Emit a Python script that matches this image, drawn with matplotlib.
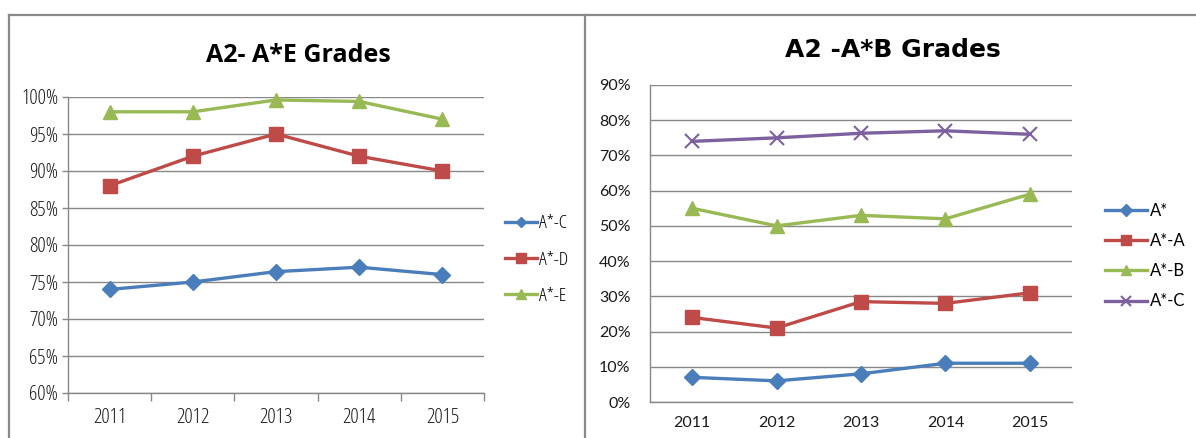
import matplotlib
matplotlib.use("Agg")
import matplotlib.pyplot as plt
from matplotlib.lines import Line2D
from matplotlib.ticker import FixedLocator, NullFormatter
from matplotlib import font_manager

years = ["2011", "2012", "2013", "2014", "2015"]

# Left chart: A2- A*E Grades (percent)
left_labels = ["A*-C", "A*-D", "A*-E"]
left_ac = [74, 75, 76.4, 77, 76]
left_ad = [88, 92, 95, 92, 90]
left_ae = [98, 98, 99.6, 99.4, 97]
left_yticks = [60, 65, 70, 75, 80, 85, 90, 95, 100]

# Right chart: A2 -A*B Grades (percent)
right_labels = ["A*", "A*-A", "A*-B", "A*-C"]
right_astar = [7, 6, 8, 11, 11]
right_aa = [24, 21, 28.5, 28, 31]
right_ab = [55, 50, 53, 52, 59]
right_ac = [74, 75, 76.3, 77, 76]
right_yticks = [0, 10, 20, 30, 40, 50, 60, 70, 80, 90]

BLUE = "#4A7EBB"
RED = "#BE4B48"
GREEN = "#98B954"
PURPLE = "#7D60A0"
GRID = "#888888"

avail = {f.name for f in font_manager.fontManager.ttflist}
narrow = "Liberation Sans Narrow" if "Liberation Sans Narrow" in avail else "Open Sans"
wide = "Lato" if "Lato" in avail else "DejaVu Sans"
NARROW_KW = dict(family=narrow, stretch="condensed")

fig = plt.figure(figsize=(11.96, 4.38), dpi=100)
W, H = 1196, 438

def fx(px):
    return px / W

def fy(py):
    return 1 - py / H

def style_axes(ax, yticks, fkw, size):
    ax.set_ylim(yticks[0], yticks[-1])
    ax.set_yticks(yticks)
    ax.set_yticklabels([f"{t}%" for t in yticks], fontsize=size, color="#1a1a1a", **fkw)
    ax.set_xlim(-0.5, len(years) - 0.5)
    ax.set_xticks(range(len(years)))
    ax.set_xticklabels(years, fontsize=size, color="#1a1a1a", **fkw)
    ax.grid(axis="y", color=GRID, linewidth=1.0)
    ax.set_axisbelow(True)
    for s in ["top", "right"]:
        ax.spines[s].set_visible(False)
    for s in ["left", "bottom"]:
        ax.spines[s].set_color(GRID)
        ax.spines[s].set_linewidth(1.0)
    ax.set_facecolor("none")

x = list(range(len(years)))

# ---------- Left chart ----------
axL = fig.add_axes([fx(68), fy(393), fx(484) - fx(68), fy(97) - fy(393)])
axL.plot(x, left_ac, color=BLUE, lw=2.4, marker="D", ms=8, label=left_labels[0], clip_on=False)
axL.plot(x, left_ad, color=RED, lw=2.4, marker="s", ms=10, label=left_labels[1], clip_on=False)
axL.plot(x, left_ae, color=GREEN, lw=2.4, marker="^", ms=10, label=left_labels[2], clip_on=False)
style_axes(axL, left_yticks, NARROW_KW, 15)
axL.tick_params(axis="x", length=0, pad=11)
axL.xaxis.set_minor_locator(FixedLocator([i - 0.5 for i in range(len(years) + 1)]))
axL.xaxis.set_minor_formatter(NullFormatter())
axL.tick_params(axis="x", which="minor", length=6, color=GRID, width=1)
axL.tick_params(axis="y", length=4, color=GRID, width=1, pad=3)
axL.set_title("A2- A*E Grades", fontweight="bold", fontsize=18, pad=25, x=0.553, **NARROW_KW)
axL.legend(loc="center left", bbox_to_anchor=((505 - 68) / 416, 0.45), frameon=False,
           prop=dict(size=14, **NARROW_KW), handlelength=1.65, handletextpad=0.08,
           labelspacing=0.95, borderaxespad=0, borderpad=0, markerscale=0.7)

# ---------- Right chart ----------
axR = fig.add_axes([fx(650), fy(402), fx(1072) - fx(650), fy(85) - fy(402)])
axR.plot(x, right_astar, color=BLUE, lw=2.4, marker="D", ms=8, label=right_labels[0], clip_on=False)
axR.plot(x, right_aa, color=RED, lw=2.4, marker="s", ms=10, label=right_labels[1], clip_on=False)
axR.plot(x, right_ab, color=GREEN, lw=2.4, marker="^", ms=10, label=right_labels[2], clip_on=False)
axR.plot(x, right_ac, color=PURPLE, lw=2.4, marker="x", ms=10, mew=1.5, label=right_labels[3], clip_on=False)
style_axes(axR, right_yticks, dict(family=wide), 11.5)
axR.tick_params(axis="x", length=0, pad=10)
axR.tick_params(axis="y", length=0, pad=14)
axR.set_title("A2 -A*B Grades", fontfamily="DejaVu Sans", fontweight="bold", fontsize=18, pad=20, x=0.575)
axR.legend(loc="center left", bbox_to_anchor=((1105 - 650) / 422, 0.46), frameon=False,
           prop={"family": wide, "size": 12}, handlelength=2.5, handletextpad=0.2,
           labelspacing=0.85, borderaxespad=0, borderpad=0, markerscale=0.75)

# ---------- Frames ----------
frame_kw = dict(color="#8A8A8A", lw=1.6, transform=fig.transFigure)
fig.add_artist(Line2D([fx(9), 1.0], [fy(15), fy(15)], **frame_kw))
fig.add_artist(Line2D([fx(9), fx(9)], [fy(15), 0.0], **frame_kw))
fig.add_artist(Line2D([fx(585), fx(585)], [fy(15), 0.0], **frame_kw))

fig.savefig("out.png", dpi=100)
